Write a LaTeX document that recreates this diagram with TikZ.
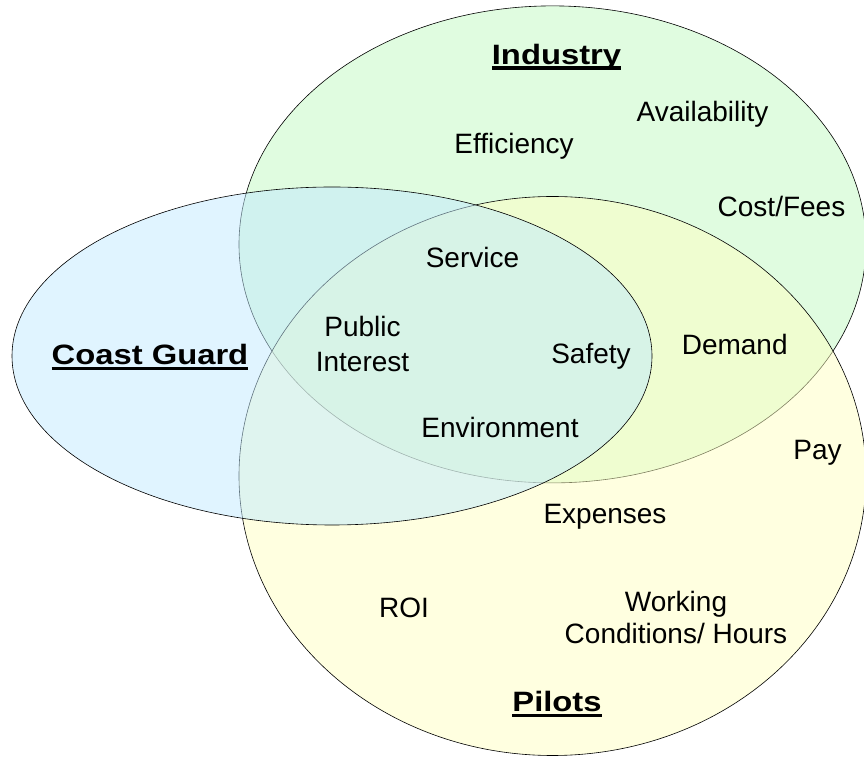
\documentclass[tikz,border=0pt]{standalone}
\usepackage{fontspec}
\setmainfont{Liberation Sans}
\newfontfamily\headfont[FakeStretch=1.17]{Liberation Sans}
\usetikzlibrary{shapes.geometric}
\definecolor{indfill}{RGB}{193,249,193}
\definecolor{pilfill}{RGB}{255,255,193}
\definecolor{cgfill}{RGB}{193,233,255}
\newcommand{\heading}[1]{\headfont\bfseries\setbox0\hbox{#1}\rlap{\rule[-5.5pt]{\wd0}{3.5pt}}\box0}

\begin{document}
\begin{tikzpicture}[x=1pt,y=1pt,
    venn/.style={ellipse,draw,line width=0.6pt,fill opacity=0.5,inner sep=0pt},
    term/.style={anchor=base,inner sep=0pt,align=center,font=\fontsize{28}{33}\selectfont}]
    \useasboundingbox (0,0) rectangle (864,757);

    \node[venn, fill=indfill, minimum width=627pt, minimum height=477pt] (industry) at (552.5,512.6) {};
    \node[venn, fill=pilfill, minimum width=627pt, minimum height=559pt] (pilots) at (552.5,281) {};
    \node[venn, fill=cgfill, minimum width=640pt, minimum height=338pt] (coastguard) at (332,401) {};

    \node[term] (industrylabel) at (556.5,692.5) {\heading{Industry}};
    \node[term] (pilotslabel) at (557,45.3) {\heading{Pilots}};
    \node[term] (coastguardlabel) at (150,392) {\heading{Coast Guard}};

    \node[term] (efficiency) at (514,603.7) {Efficiency};
    \node[term] (availability) at (702.5,635) {Availability};
    \node[term] (costfees) at (781.5,540) {Cost/Fees};
    \node[term] (service) at (472.5,489) {Service};
    \node[term] (publicinterest) at (362.5,385) {Public\\[2pt]Interest};
    \node[term] (safety) at (591,393) {Safety};
    \node[term] (demand) at (734.7,402) {Demand};
    \node[term] (environment) at (500,319) {Environment};
    \node[term] (pay) at (817.5,297) {Pay};
    \node[term] (expenses) at (605,233.7) {Expenses};
    \node[term] (roi) at (404,139.3) {ROI};
    \node[term] (working) at (676,113.7) {Working\\[-1pt]Conditions/ Hours};
\end{tikzpicture}
\end{document}
